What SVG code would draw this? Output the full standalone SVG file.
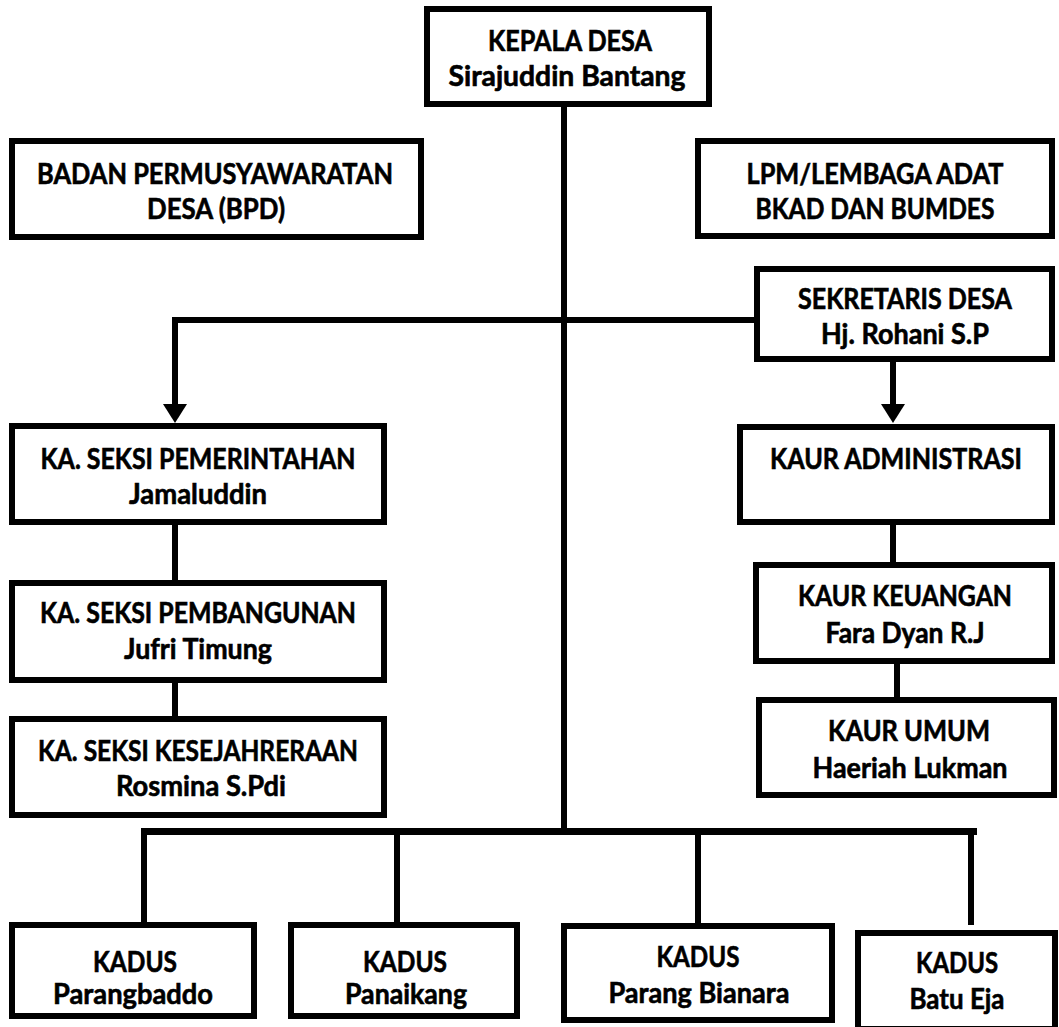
<svg xmlns="http://www.w3.org/2000/svg" width="1059" height="1027" viewBox="0 0 1059 1027">
<style>
.box{fill:#fff;stroke:#000;stroke-width:6}
.t{font-family:Lato,"Liberation Sans",sans-serif;font-weight:bold;font-size:28px;fill:#000;stroke:#000;stroke-width:0.6;text-anchor:middle}
.ln{stroke:#000;stroke-width:6;fill:none}
</style>
<rect width="1059" height="1027" fill="#fff"/>
<g id="connectors">
<path class="ln" d="M564 107V835"/>
<path class="ln" d="M172 320H757"/>
<path class="ln" d="M175 317V408"/>
<polygon points="163,404 187,404 175,423" fill="#000"/>
<path class="ln" d="M893 362V408"/>
<polygon points="881,404 905,404 893,423" fill="#000"/>
<path class="ln" d="M175 525V580"/>
<path class="ln" d="M175 683V716"/>
<path class="ln" d="M893 525V562"/>
<path class="ln" d="M897 664V697"/>
<path class="ln" style="stroke-width:7" d="M141 831.5H977"/>
<path class="ln" d="M144 831V922"/>
<path class="ln" d="M397 831V922"/>
<path class="ln" d="M698 831V923"/>
<path class="ln" d="M971 831V925"/>
</g>
<g id="kepala-desa">
<rect class="box" x="427" y="9" width="282" height="95"/>
<text class="t" x="570" y="51" textLength="164" lengthAdjust="spacingAndGlyphs">KEPALA DESA</text>
<text class="t" x="567" y="86" textLength="237" lengthAdjust="spacingAndGlyphs">Sirajuddin Bantang</text>
</g>
<g id="bpd">
<rect class="box" x="12" y="141" width="409" height="96"/>
<text class="t" x="215" y="184" textLength="356" lengthAdjust="spacingAndGlyphs">BADAN PERMUSYAWARATAN</text>
<text class="t" x="216" y="219" textLength="138" lengthAdjust="spacingAndGlyphs">DESA (BPD)</text>
</g>
<g id="lpm">
<rect class="box" x="698" y="141" width="354" height="95"/>
<text class="t" x="875" y="184" textLength="257" lengthAdjust="spacingAndGlyphs">LPM/LEMBAGA ADAT</text>
<text class="t" x="875" y="219" textLength="239" lengthAdjust="spacingAndGlyphs">BKAD DAN BUMDES</text>
</g>
<g id="sekretaris-desa">
<rect class="box" x="757" y="269" width="295" height="90"/>
<text class="t" x="905" y="309" textLength="214" lengthAdjust="spacingAndGlyphs">SEKRETARIS DESA</text>
<text class="t" x="905" y="344" textLength="168" lengthAdjust="spacingAndGlyphs">Hj. Rohani S.P</text>
</g>
<g id="seksi-pemerintahan">
<rect class="box" x="12" y="426" width="372" height="96"/>
<text class="t" x="198" y="469" textLength="315" lengthAdjust="spacingAndGlyphs">KA. SEKSI PEMERINTAHAN</text>
<text class="t" x="198" y="504" textLength="138" lengthAdjust="spacingAndGlyphs">Jamaluddin</text>
</g>
<g id="seksi-pembangunan">
<rect class="box" x="12" y="583" width="372" height="97"/>
<text class="t" x="198" y="623" textLength="316" lengthAdjust="spacingAndGlyphs">KA. SEKSI PEMBANGUNAN</text>
<text class="t" x="198" y="659" textLength="148" lengthAdjust="spacingAndGlyphs">Jufri Timung</text>
</g>
<g id="seksi-kesejahteraan">
<rect class="box" x="12" y="719" width="372" height="96"/>
<text class="t" x="198" y="761" textLength="320" lengthAdjust="spacingAndGlyphs">KA. SEKSI KESEJAHRERAAN</text>
<text class="t" x="201" y="796" textLength="170" lengthAdjust="spacingAndGlyphs">Rosmina S.Pdi</text>
</g>
<g id="kaur-administrasi">
<rect class="box" x="740" y="427" width="312" height="95"/>
<text class="t" x="896" y="469" textLength="252" lengthAdjust="spacingAndGlyphs">KAUR ADMINISTRASI</text>
</g>
<g id="kaur-keuangan">
<rect class="box" x="756" y="565" width="296" height="96"/>
<text class="t" x="905" y="606" textLength="214" lengthAdjust="spacingAndGlyphs">KAUR KEUANGAN</text>
<text class="t" x="905" y="643" textLength="159" lengthAdjust="spacingAndGlyphs">Fara Dyan R.J</text>
</g>
<g id="kaur-umum">
<rect class="box" x="759" y="700" width="295" height="95"/>
<text class="t" x="909" y="741" textLength="162" lengthAdjust="spacingAndGlyphs">KAUR UMUM</text>
<text class="t" x="910" y="778" textLength="195" lengthAdjust="spacingAndGlyphs">Haeriah Lukman</text>
</g>
<g id="kadus-parangbaddo">
<rect class="box" x="12" y="925" width="242" height="91"/>
<text class="t" x="135" y="972" textLength="84" lengthAdjust="spacingAndGlyphs">KADUS</text>
<text class="t" x="133" y="1004" textLength="160" lengthAdjust="spacingAndGlyphs">Parangbaddo</text>
</g>
<g id="kadus-panaikang">
<rect class="box" x="291" y="925" width="226" height="91"/>
<text class="t" x="405" y="972" textLength="84" lengthAdjust="spacingAndGlyphs">KADUS</text>
<text class="t" x="406" y="1004" textLength="122" lengthAdjust="spacingAndGlyphs">Panaikang</text>
</g>
<g id="kadus-parang-bianara">
<rect class="box" x="564" y="926" width="268" height="94"/>
<text class="t" x="698" y="967" textLength="83" lengthAdjust="spacingAndGlyphs">KADUS</text>
<text class="t" x="699" y="1003" textLength="181" lengthAdjust="spacingAndGlyphs">Parang Bianara</text>
</g>
<g id="kadus-batu-eja">
<rect class="box" x="858" y="933" width="197" height="96"/>
<text class="t" x="957" y="973" textLength="82" lengthAdjust="spacingAndGlyphs">KADUS</text>
<text class="t" x="957" y="1009" textLength="95" lengthAdjust="spacingAndGlyphs">Batu Eja</text>
</g>
</svg>
